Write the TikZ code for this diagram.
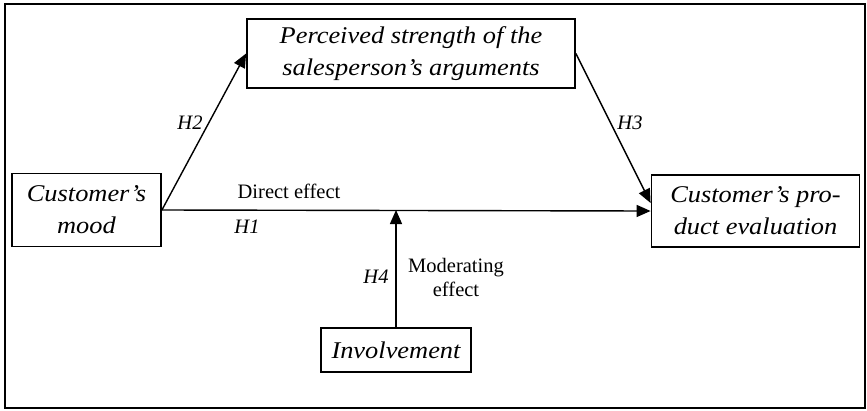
\documentclass[tikz,border=0pt]{standalone}
\usepackage{fontspec}
\setmainfont{Liberation Serif}
\newfontfamily\boxfont{Liberation Serif}[FakeStretch=1.1]
\usetikzlibrary{arrows.meta,calc}
\begin{document}
\begin{tikzpicture}[x=1pt,y=-1pt,
  conbox/.style={draw,line width=1.8pt,minimum width=#1,inner sep=0pt,align=center,
    font=\boxfont\itshape\fontsize{24}{32}\selectfont},
  lbl/.style={inner sep=0pt,font=\fontsize{20.5}{24}\selectfont,align=center},
  ilbl/.style={lbl,font=\itshape\fontsize{20.5}{24}\selectfont},
  arr/.style={line width=1.4pt,-{Triangle[length=14pt,width=12pt]}}]
\useasboundingbox (0,0) rectangle (867,410);
\draw[line width=2pt] (5,4) rectangle (865,408);
\node[conbox=328pt,minimum height=69pt] (top) at (411,53.5) {Perceived strength of the\\salesperson’s arguments};
\node[conbox=149pt,minimum height=73pt] (mood) at (86.5,210) {Customer’s\\mood};
\node[conbox=208pt,minimum height=72pt] (eval) at (755.5,211) {Customer’s pro-\\duct evaluation};
\node[conbox=150pt,minimum height=44pt] (inv) at (396,350) {Involvement};
\coordinate (mod) at (inv.north |- mood.east);
\draw[arr] (mood.east) -- (top.west);
\draw[arr] (top.east) -- ([yshift=8pt]eval.west);
\draw[arr] (mood.east) -- (eval.west);
\draw[arr] (inv.north) -- (mod);
\node[ilbl] (h2) at (190,123) {H2};
\node[ilbl] (h3) at (630,123) {H3};
\node[lbl] (de) at (289,191) {Direct effect};
\node[ilbl] (h1) at (247,227) {H1};
\node[ilbl] (h4) at (376,277) {H4};
\node[lbl] (me) at (456,277) {Moderating\\effect};
\end{tikzpicture}
\end{document}
